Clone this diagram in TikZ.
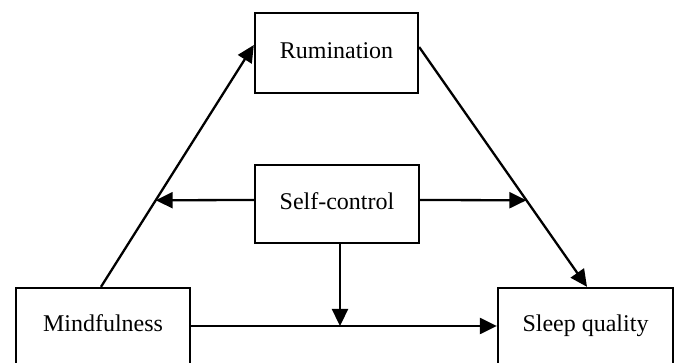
\documentclass[tikz,border=0pt]{standalone}
\usepackage{fontspec}
\setmainfont{Liberation Serif}
\usetikzlibrary{arrows.meta,calc}
\begin{document}
\begin{tikzpicture}[x=1pt,y=-1pt,
  boxnode/.style={draw=black,line width=2.3pt,font=\fontsize{24}{28}\selectfont,inner sep=0pt,align=center,text height=16pt,text depth=5pt},
  conn/.style={line width=2.3pt,-{Triangle[length=17pt,width=16pt]}}]
\useasboundingbox (0,0) rectangle (678,363);
\clip (0,0) rectangle (678,363);
\fill[white] (0,0) rectangle (678,363);
\node[boxnode,minimum width=163pt,minimum height=80pt] (r) at (336.5,53) {Rumination};
\node[boxnode,minimum width=164pt,minimum height=78pt] (sc) at (337,204) {Self-control};
\node[boxnode,minimum width=174pt,minimum height=76pt] (m) at (103,326) {Mindfulness};
\node[boxnode,minimum width=175pt,minimum height=76pt] (s) at (585.5,326) {Sleep quality};
\coordinate (ms) at ([xshift=-2pt]m.north);
\coordinate (re) at ([yshift=8pt]r.west);
\coordinate (rs) at ([yshift=6pt]r.east);
\coordinate (se) at ([xshift=1.5pt]s.north);
\draw[conn] (ms) -- (re);
\draw[conn] (rs) -- (se);
\coordinate (la) at ($(ms)!0.358!(re)$);
\coordinate (ra) at ($(rs)!0.639!(se)$);
\draw[conn] ([yshift=4pt]sc.west) -- (la);
\draw[conn] ([yshift=4pt]sc.east) -- (ra);
\draw[conn] (m.east) -- (s.west);
\draw[conn] ([xshift=3pt]sc.south) -- ([xshift=3pt]sc.south |- m.east);
\end{tikzpicture}
\end{document}
